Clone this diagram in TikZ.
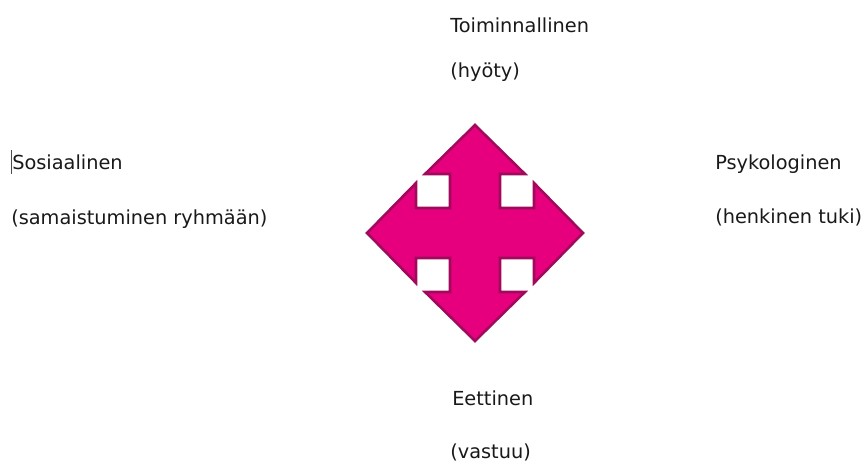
\documentclass[tikz,border=0pt]{standalone}
\usepackage{fontspec}
\setmainfont{DejaVu Sans}
\usepackage{tikz}
\definecolor{arrowpink}{RGB}{230,0,126}
\definecolor{arrowedge}{RGB}{160,10,92}
\definecolor{textgray}{gray}{0.1}
\tikzset{
  arrowbody/.style={fill=arrowpink,draw=arrowedge,line width=1.9pt,line join=miter},
  label/.style={anchor=base west,inner sep=0pt,text=textgray,
                font=\fontsize{14.5}{17}\selectfont},
  cursorline/.style={draw=black!70,line width=0.6pt},
}
\begin{document}
\begin{tikzpicture}[x=0.75pt,y=-0.75pt]
  \useasboundingbox (0,0) rectangle (866,466);
  % four-way arrow
  \begin{scope}[shift={(475,233)}]
    \draw[arrowbody] (25,-25) -- (25,-59) -- (50,-59) -- (0,-108) -- (-50,-59)
      -- (-25,-59) -- (-25,-25) -- (-59,-25) -- (-59,-50) -- (-108,0)
      -- (-59,50) -- (-59,25) -- (-25,25) -- (-25,59) -- (-50,59) -- (0,108)
      -- (50,59) -- (25,59) -- (25,25) -- (59,25) -- (59,50) -- (108,0)
      -- (59,-50) -- (59,-25) -- cycle;
  \end{scope}
  % labels
  \node[label] (top) at (450,33) {Toiminnallinen};
  \node[label] (topsub) at (450,78) {(hyöty)};
  \node[label] (left) at (12,170) {Sosiaalinen};
  \node[label] (leftsub) at (11,225) {(samaistuminen ryhmään)};
  \node[label] (right) at (715,170) {Psykologinen};
  \node[label] (rightsub) at (715,224) {(henkinen tuki)};
  \node[label] (bottom) at (452,405) {Eettinen};
  \node[label] (bottomsub) at (450,458) {(vastuu)};
  \draw[cursorline] (11,150) -- (11,174);
\end{tikzpicture}
\end{document}
